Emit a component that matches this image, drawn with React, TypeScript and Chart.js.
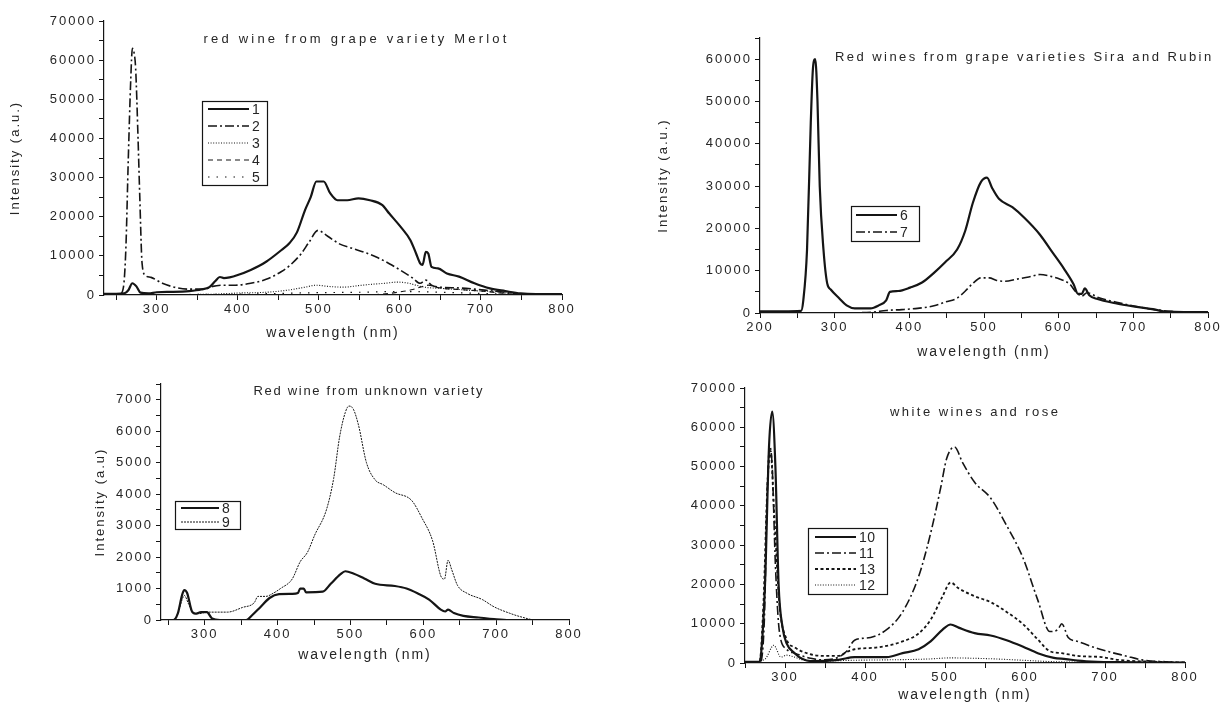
import React, { useEffect, useRef } from 'react';
import { Chart, registerables } from 'chart.js';

Chart.register(...registerables);

const FONT = '"Liberation Sans", Arial, Helvetica, sans-serif';
const INK = '#151515';
const TEXT = '#262626';

// ---------- Panel 1: red wine from grape variety Merlot ----------
const merlotTicksX = [300, 400, 500, 600, 700, 800];
const merlotTicksY = [0, 10000, 20000, 30000, 40000, 50000, 60000, 70000];
const m1X = [235,250,260,265,270,275,280,290,300,320,340,355,365,372,378,383,390,400,416,435,454,464,473,483,490,497,506,514,523,535,549,563,578,587,601,613,620,625,628,632,635,639,647,658,673,692,711,730,749,768,800];
const m1Y = [300,300,400,1200,3000,2200,600,400,700,800,1000,1400,2000,3500,4600,4300,4500,5100,6400,8500,11500,13300,16000,21700,25000,29000,29000,26000,24200,24200,24700,24200,23000,20800,17400,14000,10600,8100,7700,11000,10600,7200,6800,5500,4700,3000,1700,1000,400,250,250];
const m2X = [235,250,255,259,262,265,268,270,272,274,277,279,282,286,293,307,326,340,359,369,383,397,416,435,454,464,478,488,499,511,526,540,559,573,587,601,616,625,632,639,649,673,692,711,730,744,768,800];
const m2Y = [200,200,300,2000,12000,35000,55000,63000,62000,58000,40000,26000,8000,5000,4500,3000,1800,1500,1500,2200,2500,2500,3000,4000,6000,7500,10500,13500,16500,15000,13000,12000,10700,9500,8000,6300,4300,3000,3800,2500,2000,1800,1500,1100,700,300,200,200];
const m3X = [235,300,369,400,435,464,483,497,511,530,549,563,582,597,611,620,630,649,673,692,720,739,758,800];
const m3Y = [0,100,200,500,700,1300,2000,2500,2200,2000,2400,2700,3000,3300,3000,2500,2000,1700,1400,1100,800,300,100,0];
const m4X = [235,554,578,597,616,625,635,649,673,701,720,739,758,800];
const m4Y = [0,0,200,700,1400,2000,2500,1800,1400,1000,600,200,0,0];
const m5X = [235,400,450,500,550,600,650,700,750,800];
const m5Y = [100,200,400,600,700,900,700,400,100,0];

// ---------- Panel 2: Sira and Rubin ----------
const siraTicksX = [200, 300, 400, 500, 600, 700, 800];
const siraTicksY = [0, 10000, 20000, 30000, 40000, 50000, 60000];
const s6X = [200,230,255,258,263,268,271,274,277,280,285,290,295,306,316,327,348,359,369,374,385,401,417,433,448,464,475,485,496,504,511,520,538,554,575,591,607,620,626,631,635,641,652,676,702,729,740,755,800];
const s6Y = [400,400,500,3000,15000,45000,58000,60000,50000,30000,15000,7000,5500,3500,1800,1100,1100,1800,3000,5000,5200,6000,7200,9500,12000,15000,19500,26000,31000,32000,29500,27000,25000,22500,18500,14500,10500,6800,4500,4500,5800,4200,3300,2300,1500,800,400,300,200];
const s7X = [200,300,350,369,390,411,433,448,464,475,485,496,507,517,528,544,560,575,591,602,615,623,631,638,654,676,702,729,755,782,800];
const s7Y = [0,0,200,600,800,1100,1700,2600,3500,5200,7000,8300,8300,7700,7500,8000,8500,9100,8600,8000,6800,5000,4000,4800,3600,2600,1600,800,300,100,100];

// ---------- Panel 3: unknown variety ----------
const unkTicksX = [300, 400, 500, 600, 700, 800];
const unkTicksY = [0, 1000, 2000, 3000, 4000, 5000, 6000, 7000];
const s8X = [240,257,263,269,272,276,282,287,295,303,310,321,357,365,376,389,402,420,428,431,436,439,462,473,486,493,504,519,534,561,577,592,608,624,630,634,642,655,676,697,718,800];
const s8Y = [0,0,200,800,950,850,300,200,250,250,50,0,0,150,400,700,820,830,860,1000,1000,880,900,1150,1450,1550,1480,1320,1150,1080,1000,850,650,330,270,330,220,130,80,30,0,0];
const s9X = [240,256,263,269,272,278,284,292,303,331,352,368,373,384,394,404,420,431,441,451,467,477,485,493,498,504,511,522,534,545,561,584,598,613,624,629,634,639,647,660,681,697,718,734,755,800];
const s9Y = [0,0,200,650,780,500,230,200,250,250,400,550,750,750,850,1000,1300,1850,2150,2700,3500,4500,5800,6600,6800,6700,6200,5000,4450,4300,4050,3800,3250,2500,1400,1300,1900,1600,1100,850,650,420,220,100,0,0];

// ---------- Panel 4: white wines and rose ----------
const whiteTicksX = [300, 400, 500, 600, 700, 800];
const whiteTicksY = [0, 10000, 20000, 30000, 40000, 50000, 60000, 70000];
const s10X = [250,268,270,275,280,284,288,292,297,302,312,322,332,367,387,427,447,467,482,497,507,517,537,557,577,597,616,636,651,666,690,715,800];
const s10Y = [300,300,2000,20000,55000,64000,50000,20000,9000,5000,2500,1000,500,800,1500,1500,2500,3500,5500,8500,9800,9000,7600,7000,5800,4200,2500,1300,1000,600,300,200,100];
const s11X = [250,268,274,278,281,284,288,293,302,312,332,347,367,377,387,407,427,447,467,482,495,502,512,522,537,557,577,597,616,631,641,646,654,666,686,706,726,746,776,800];
const s11Y = [0,0,10000,45000,55000,50000,25000,8000,3500,2500,1200,800,1500,3000,5800,6500,8500,13000,22000,33000,45000,52000,55000,51000,46000,42000,35000,27000,16000,8000,8500,10000,6500,5500,4000,2800,1800,800,300,100];
const s13X = [250,268,273,278,282,286,293,302,312,327,347,367,377,387,417,447,467,482,497,507,517,537,557,577,597,616,631,646,666,696,716,766,800];
const s13Y = [0,0,15000,45000,54000,40000,15000,6000,4000,2500,1800,1800,2800,3500,4000,5500,7500,11000,17000,20500,19000,17000,15500,13000,10000,6000,3000,2500,1800,1500,800,300,100];
const s12X = [250,275,286,295,302,312,322,347,387,427,477,507,537,567,597,627,666,716,800];
const s12Y = [0,1000,4500,1500,2000,1500,800,500,700,800,1000,1300,1200,1000,700,400,200,100,0];

type StyleKey = 'solid' | 'dashdot' | 'dot' | 'dash' | 'sparse' | 'fine' | 'short';
const STYLES: Record<StyleKey, { dash: number[]; width: number }> = {
  solid: { dash: [], width: 2.2 },
  dashdot: { dash: [9, 3, 2, 3], width: 1.6 },
  dot: { dash: [1, 1.6], width: 1.1 },
  dash: { dash: [5, 4], width: 1.2 },
  sparse: { dash: [1.5, 7], width: 1.2 },
  fine: { dash: [2, 1], width: 1 },
  short: { dash: [3, 2.5], width: 1.8 },
};

type Series = { label: string; x: number[]; y: number[]; style: StyleKey };
type Panel = {
  left: number; top: number; w: number; h: number;
  area: { l: number; t: number; r: number; b: number };
  xMin: number; xMax: number; xMajor: number[];
  yMax: number; yMajor: number[];
  yTitle: string | null; yTitleX: number;
  xTitleY: number;
  title: { text: string; cx: number; y: number; w: number };
  legend: { l: number; t: number; r: number; b: number; row0: number; rowH: number; x0: number; x1: number; tx: number };
  series: Series[];
};

const PANELS: Panel[] = [
  {
    left: 0, top: 0, w: 600, h: 350,
    area: { l: 104, t: 21, r: 562, b: 295 },
    xMin: 235, xMax: 800, xMajor: merlotTicksX,
    yMax: 70000, yMajor: merlotTicksY,
    yTitle: 'Intensity (a.u.)', yTitleX: 15, xTitleY: 333,
    title: { text: 'red wine from grape variety Merlot', cx: 355, y: 39, w: 303 },
    legend: { l: 202, t: 101, r: 267, b: 185, row0: 109, rowH: 17, x0: 208, x1: 249, tx: 252 },
    series: [
      { label: '1', x: m1X, y: m1Y, style: 'solid' },
      { label: '2', x: m2X, y: m2Y, style: 'dashdot' },
      { label: '3', x: m3X, y: m3Y, style: 'dot' },
      { label: '4', x: m4X, y: m4Y, style: 'dash' },
      { label: '5', x: m5X, y: m5Y, style: 'sparse' },
    ],
  },
  {
    left: 600, top: 0, w: 625, h: 370,
    area: { l: 160, t: 38, r: 608, b: 313 },
    xMin: 200, xMax: 800, xMajor: siraTicksX,
    yMax: 65000, yMajor: siraTicksY,
    yTitle: 'Intensity (a.u.)', yTitleX: 63, xTitleY: 352,
    title: { text: 'Red wines from grape varieties Sira and Rubin', cx: 423, y: 57, w: 376 },
    legend: { l: 251, t: 206, r: 319, b: 241, row0: 215, rowH: 17, x0: 256, x1: 297, tx: 300 },
    series: [
      { label: '6', x: s6X, y: s6Y, style: 'solid' },
      { label: '7', x: s7X, y: s7Y, style: 'dashdot' },
    ],
  },
  {
    left: 0, top: 370, w: 600, h: 334,
    area: { l: 161, t: 14, r: 569, b: 250 },
    xMin: 240, xMax: 800, xMajor: unkTicksX,
    yMax: 7500, yMajor: unkTicksY,
    yTitle: 'Intensity (a.u)', yTitleX: 100, xTitleY: 285,
    title: { text: 'Red wine from unknown variety', cx: 368, y: 21, w: 229 },
    legend: { l: 175, t: 131, r: 240, b: 159, row0: 138, rowH: 14, x0: 181, x1: 219, tx: 222 },
    series: [
      { label: '8', x: s8X, y: s8Y, style: 'solid' },
      { label: '9', x: s9X, y: s9Y, style: 'fine' },
    ],
  },
  {
    left: 600, top: 370, w: 625, h: 334,
    area: { l: 145, t: 18, r: 585, b: 293 },
    xMin: 250, xMax: 800, xMajor: whiteTicksX,
    yMax: 70000, yMajor: whiteTicksY,
    yTitle: null, yTitleX: 0, xTitleY: 325,
    title: { text: 'white wines and rose', cx: 374, y: 42, w: 168 },
    legend: { l: 208, t: 158, r: 287, b: 224, row0: 167, rowH: 16, x0: 215, x1: 256, tx: 259 },
    series: [
      { label: '10', x: s10X, y: s10Y, style: 'solid' },
      { label: '11', x: s11X, y: s11Y, style: 'dashdot' },
      { label: '13', x: s13X, y: s13Y, style: 'short' },
      { label: '12', x: s12X, y: s12Y, style: 'dot' },
    ],
  },
];

function tickValues(min: number, max: number, majors: number[]): number[] {
  const half = (majors[1] - majors[0]) / 2;
  const out: number[] = [];
  for (let v = Math.ceil(min / half - 1e-9) * half; v <= max + 1e-9; v += half) out.push(v);
  return out;
}

const spacingPlugin = {
  id: 'letterSpacing',
  beforeUpdate(chart: any) { chart.ctx.letterSpacing = '2px'; },
  beforeDraw(chart: any) { chart.ctx.letterSpacing = '2px'; },
};

function makeDecor(p: Panel) {
  return {
    id: 'decor',
    afterDraw(chart: any) {
      const ctx = chart.ctx as CanvasRenderingContext2D & { letterSpacing: string };
      ctx.save();
      ctx.fillStyle = TEXT;
      ctx.textBaseline = 'middle';
      ctx.textAlign = 'left';
      ctx.font = `13px ${FONT}`;
      ctx.letterSpacing = '0px';
      const t = p.title;
      const w0 = ctx.measureText(t.text).width;
      const sp = (t.w - w0) / Math.max(1, t.text.length - 1);
      ctx.letterSpacing = `${sp.toFixed(2)}px`;
      ctx.fillText(t.text, t.cx - t.w / 2, t.y);
      const L = p.legend;
      ctx.letterSpacing = '0.5px';
      ctx.setLineDash([]);
      ctx.strokeStyle = INK;
      ctx.lineWidth = 1.2;
      ctx.strokeRect(L.l + 0.5, L.t + 0.5, L.r - L.l, L.b - L.t);
      ctx.font = `14px ${FONT}`;
      chart.data.datasets.forEach((ds: any, i: number) => {
        const y = L.row0 + i * L.rowH;
        ctx.setLineDash(ds.borderDash || []);
        ctx.lineWidth = ds.borderWidth;
        ctx.strokeStyle = INK;
        ctx.beginPath();
        ctx.moveTo(L.x0, y);
        ctx.lineTo(L.x1, y);
        ctx.stroke();
        ctx.fillText(ds.label, L.tx, y + 1);
      });
      ctx.restore();
    },
  };
}

function PanelChart({ p }: { p: Panel }) {
  const ref = useRef<HTMLCanvasElement>(null);
  useEffect(() => {
    const canvas = ref.current;
    if (!canvas) return;
    const xAxisH = p.xTitleY - p.area.b + 8.4;
    const xt = tickValues(p.xMin, p.xMax, p.xMajor);
    const yt = tickValues(0, p.yMax, p.yMajor);
    const chart = new Chart(canvas, {
      type: 'line',
      data: {
        datasets: p.series.map((s) => ({
          label: s.label,
          data: s.x.map((x, i) => ({ x, y: s.y[i] })),
          borderColor: INK,
          borderWidth: STYLES[s.style].width,
          borderDash: STYLES[s.style].dash,
          pointRadius: 0,
          fill: false,
          cubicInterpolationMode: 'monotone',
        })),
      },
      options: {
        responsive: false,
        animation: false,
        events: [],
        layout: {
          padding: { left: 0, top: p.area.t, right: p.w - p.area.r, bottom: p.h - p.area.b - xAxisH },
        },
        plugins: { legend: { display: false }, tooltip: { enabled: false }, title: { display: false } },
        scales: {
          x: {
            type: 'linear',
            min: p.xMin,
            max: p.xMax,
            afterBuildTicks: (s: any) => { s.ticks = xt.map((v) => ({ value: v })); },
            afterFit: (s: any) => { s.height = xAxisH; },
            ticks: {
              autoSkip: false, maxRotation: 0, padding: 2, color: TEXT,
              font: { family: FONT, size: 13 },
              callback: (v: any) => (p.xMajor.includes(Number(v)) ? String(v) : ''),
            },
            grid: { drawOnChartArea: false, drawTicks: true, tickLength: 5, color: INK, lineWidth: 1 },
            border: { display: true, color: INK, width: 1.2 },
            title: { display: true, text: 'wavelength (nm)', color: TEXT, font: { family: FONT, size: 14 }, padding: { top: 0, bottom: 0 } },
          },
          y: {
            type: 'linear',
            min: 0,
            max: p.yMax,
            afterBuildTicks: (s: any) => { s.ticks = yt.map((v) => ({ value: v })); },
            afterFit: (s: any) => { s.width = p.area.l; },
            ticks: {
              autoSkip: false, padding: 3, color: TEXT,
              font: { family: FONT, size: 13 },
              callback: (v: any) => (p.yMajor.includes(Number(v)) ? String(v) : ''),
            },
            grid: { drawOnChartArea: false, drawTicks: true, tickLength: 5, color: INK, lineWidth: 1 },
            border: { display: true, color: INK, width: 1.2 },
            title: {
              display: !!p.yTitle, text: p.yTitle || '', color: TEXT,
              font: { family: FONT, size: 13 },
              padding: { top: Math.max(0, p.yTitleX - 7.8), bottom: 0 },
            },
          },
        },
      },
      plugins: [spacingPlugin, makeDecor(p)],
    } as any);
    return () => chart.destroy();
  }, [p]);
  return (
    <canvas
      ref={ref}
      width={p.w}
      height={p.h}
      style={{ position: 'absolute', left: p.left, top: p.top, width: p.w, height: p.h }}
    />
  );
}

export default function App() {
  return (
    <div style={{ position: 'absolute', left: 0, top: 0, width: 1225, height: 704, background: '#fff', overflow: 'hidden' }}>
      {PANELS.map((p, i) => (
        <PanelChart key={i} p={p} />
      ))}
    </div>
  );
}
